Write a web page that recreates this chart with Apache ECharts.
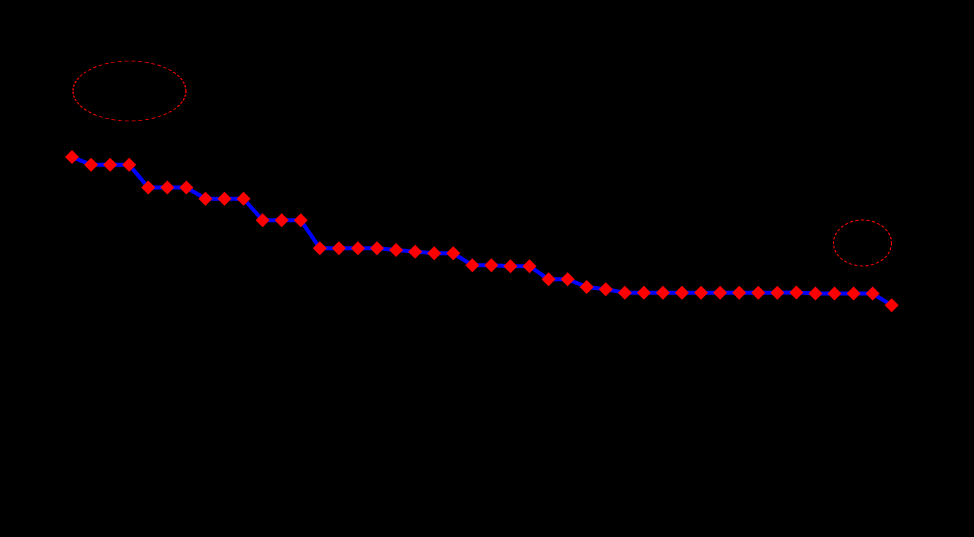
<!DOCTYPE html>
<html>
<head>
<meta charset="utf-8">
<script src="https://cdn.jsdelivr.net/npm/echarts@6/dist/echarts.min.js"></script>
<style>
html,body{margin:0;padding:0;background:#000;}
#main{width:974px;height:537px;}
</style>
</head>
<body>
<div id="main"></div>
<script>
const titleText = '2018年以来金融机构平均法定存款准备金率变动情况';
const categories = ['1','2','3','4','5','6','7','8','9','10','11','12','13','14','15','16','17','18','19','20','21','22','23','24','25','26','27','28','29','30','31','32','33','34','35','36','37','38','39','40','41','42','43','44'];
const rrrValues = [14.9,14.59,14.59,14.59,13.67,13.67,13.67,13.21,13.21,13.21,12.34,12.34,12.34,11.21,11.21,11.21,11.21,11.14,11.07,11.0,11.0,10.52,10.52,10.48,10.48,9.95,9.95,9.64,9.55,9.41,9.40,9.40,9.40,9.40,9.40,9.40,9.40,9.40,9.42,9.37,9.37,9.37,9.37,8.9];
const yTicks = [0,2,4,6,8,10,12,14,16,18];
const startNote = '2018年1月1日：\n14.9%';
const endNote = '8.9%';

const chart = echarts.init(document.getElementById('main'));
const yAxisBase = {
  type: 'value', min: yTicks[0], max: yTicks[yTicks.length - 1], interval: 2,
  axisLine: {show: false}, axisTick: {show: false},
  splitLine: {show: false},
  axisLabel: {color: '#000', fontFamily: 'Liberation Serif', fontSize: 19, formatter: v => v + '%'}
};
chart.setOption({
  backgroundColor: '#000',
  animation: false,
  title: {
    text: titleText, left: 'center', top: 14,
    textStyle: {color: '#000', fontFamily: 'Noto Sans CJK SC', fontWeight: 'bold', fontSize: 26}
  },
  grid: {left: 62.5, right: 72.8, top: 80.5, bottom: 12},
  xAxis: {
    type: 'category', data: categories, boundaryGap: true,
    axisLine: {show: false}, axisTick: {show: false}, axisLabel: {show: false}
  },
  yAxis: [
    Object.assign({}, yAxisBase, {position: 'left', axisLabel: Object.assign({}, yAxisBase.axisLabel, {margin: 15})}),
    Object.assign({}, yAxisBase, {position: 'right', axisLabel: Object.assign({}, yAxisBase.axisLabel, {margin: 17})})
  ],
  series: [{
    type: 'line', data: rrrValues, yAxisIndex: 0,
    lineStyle: {color: '#0000FF', width: 4},
    showSymbol: true, showAllSymbol: true,
    symbol: 'diamond', symbolSize: 14,
    itemStyle: {color: '#FF0000'},
    markPoint: {
      symbol: 'circle', silent: true,
      itemStyle: {color: 'rgba(0,0,0,0)', borderColor: '#FF0000', borderWidth: 1, borderType: [3, 2]},
      label: {show: true, position: 'inside', color: '#000', fontFamily: 'Liberation Serif', fontSize: 14, lineHeight: 19},
      data: [
        {name: 'start', x: 129.5, y: 91, symbolSize: [113, 60], label: {formatter: startNote}},
        {name: 'end', x: 862.5, y: 243, symbolSize: [58, 46], label: {formatter: endNote}}
      ]
    }
  }]
});
</script>
</body>
</html>
